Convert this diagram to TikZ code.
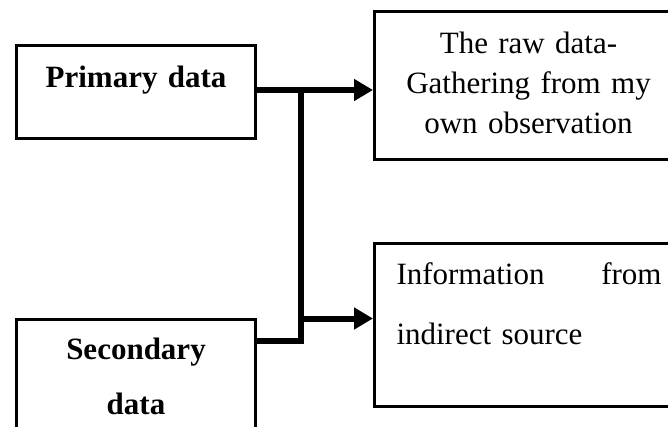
\documentclass[tikz,border=0pt]{standalone}
\usepackage{fontspec}
\setmainfont{Liberation Serif}
\usetikzlibrary{arrows.meta}

\tikzset{
  databox/.style={draw, line width=3pt, inner sep=0pt, align=center,
    font=\fontsize{31}{40}\selectfont},
  link/.style={line width=6pt},
  linkarrow/.style={link, -{Triangle[length=19pt,width=21pt]}}
}

\begin{document}
\begin{tikzpicture}[x=1pt, y=-1pt]%
      \useasboundingbox (0, 0) rectangle (668, 427);%
      % boxes on the left
      \node[databox, font=\bfseries\fontsize{31}{40}\selectfont, text width=239pt,
            text height=42pt, text depth=51pt, anchor=north west] (prim) at (15, 44) {Primary data};
      \node[databox, font=\bfseries\fontsize{31}{55}\selectfont, text width=239pt,
            text height=40pt, text depth=120pt, anchor=north west] (sec) at (15, 318) {Secondary\\data};
      % boxes on the right
      \node[databox, text width=308pt, text height=42pt, text depth=106pt,
            anchor=north west] (raw) at (373, 10) {The raw data-\\Gathering from my\\own observation};
      \node[databox, align=left, text width=265pt, text height=41pt, text depth=122pt,
            inner xsep=22pt, anchor=north west] (info) at (373, 242) {Information\hfill from\\[20pt]indirect source\hspace*{\fill}};
      % joints of the trunk
      \coordinate (jP) at (300.5, 90);
      \coordinate (jI) at (300.5, 318.5);
      \coordinate (jS) at (300.5, 340.5);
      \draw[link] (sec.east |- jS) -- (jS) -- ([yshift=-3pt]jP);
      \draw[linkarrow] (prim.east |- jP) -- (raw.west |- jP);
      \draw[linkarrow] (jI) -- (info.west |- jI);
    \end{tikzpicture}
\end{document}
